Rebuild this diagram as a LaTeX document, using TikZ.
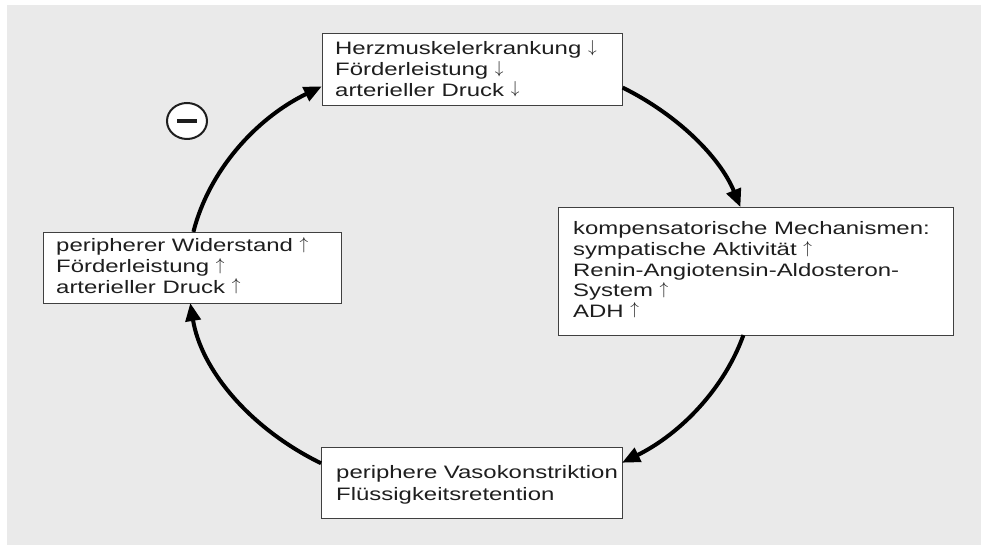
\documentclass[tikz,border=0pt]{standalone}
\usepackage{fontspec}
\usepackage{graphicx}
\setmainfont{Liberation Sans}[FakeStretch=1.33]
\usetikzlibrary{arrows.meta,shapes.geometric}
\definecolor{bg}{HTML}{EAEAEA}
\definecolor{ink}{HTML}{1E1E1E}
\newcommand{\dn}{\ \smash{\raisebox{2.5pt}{$\downarrow$}}}
\newcommand{\up}{\ \smash{\raisebox{2.5pt}{$\uparrow$}}}
\begin{document}
\begin{tikzpicture}[x=1pt,y=1pt,
  box/.style={draw=ink!85, line width=1.3pt, fill=white, inner sep=0, anchor=north west},
  txt/.style={anchor=base west, inner sep=0, text=ink, font=\fontsize{18}{20.6}\selectfont},
  cyc/.style={line width=4pt, draw=black, -{Triangle[length=18pt,width=15pt]}}]
\useasboundingbox (0,0) rectangle (981,546);
\fill[bg] (7,1) rectangle (981,541);
% boxes
\node[box, minimum width=300pt, minimum height=72pt] (top) at (322,513) {};
\node[box, minimum width=298pt, minimum height=71pt] (left) at (43,314) {};
\node[box, minimum width=395pt, minimum height=128pt] (right) at (558,339) {};
\node[box, minimum width=301pt, minimum height=71pt] (bottom) at (321,99) {};
% texts
\node[txt] (ttop) at ([shift={(13,-22)}]top.north west)
  {\vtop{\hbox{Herzmuskelerkrankung\dn}\hbox{Förderleistung\dn}\hbox{arterieller Druck\dn}}};
\node[txt] (tleft) at ([shift={(13,-20)}]left.north west)
  {\vtop{\hbox{peripherer Widerstand\up}\hbox{Förderleistung\up}\hbox{arterieller Druck\up}}};
\node[txt] (tright) at ([shift={(15,-28)}]right.north west)
  {\vtop{\hbox{kompensatorische Mechanismen:}\hbox{sympatische Aktivität\up}\hbox{Renin-Angiotensin-Aldosteron-}\hbox{System\up}\hbox{ADH\up}}};
\node[txt] (tbottom) at ([shift={(15,-31)}]bottom.north west)
  {\vtop{\baselineskip=22pt\hbox{periphere Vasokonstriktion}\hbox{Flüssigkeitsretention}}};
% cycle arrows (arcs of one ellipse)
\coordinate (ctr) at (471,271);
\draw[cyc] ([shift={(168.8:283pt and 222pt)}]ctr) arc[start angle=168.8, end angle=121.8, x radius=283pt, y radius=222pt];
\draw[cyc] ([shift={(57.6:283pt and 222pt)}]ctr) arc[start angle=57.6, end angle=17.8, x radius=283pt, y radius=222pt];
\draw[cyc] ([shift={(-15.7:283pt and 222pt)}]ctr) arc[start angle=-15.7, end angle=-57.75, x radius=283pt, y radius=222pt];
\draw[cyc] ([shift={(-122:283pt and 222pt)}]ctr) arc[start angle=-122, end angle=-172.75, x radius=283pt, y radius=222pt];
% negative feedback sign
\node[draw=ink, line width=2pt, fill=white, ellipse, minimum width=40pt, minimum height=36pt, inner sep=0] (neg) at (187,425) {\textcolor{ink}{\rule{20pt}{4pt}}};
\end{tikzpicture}
\end{document}
